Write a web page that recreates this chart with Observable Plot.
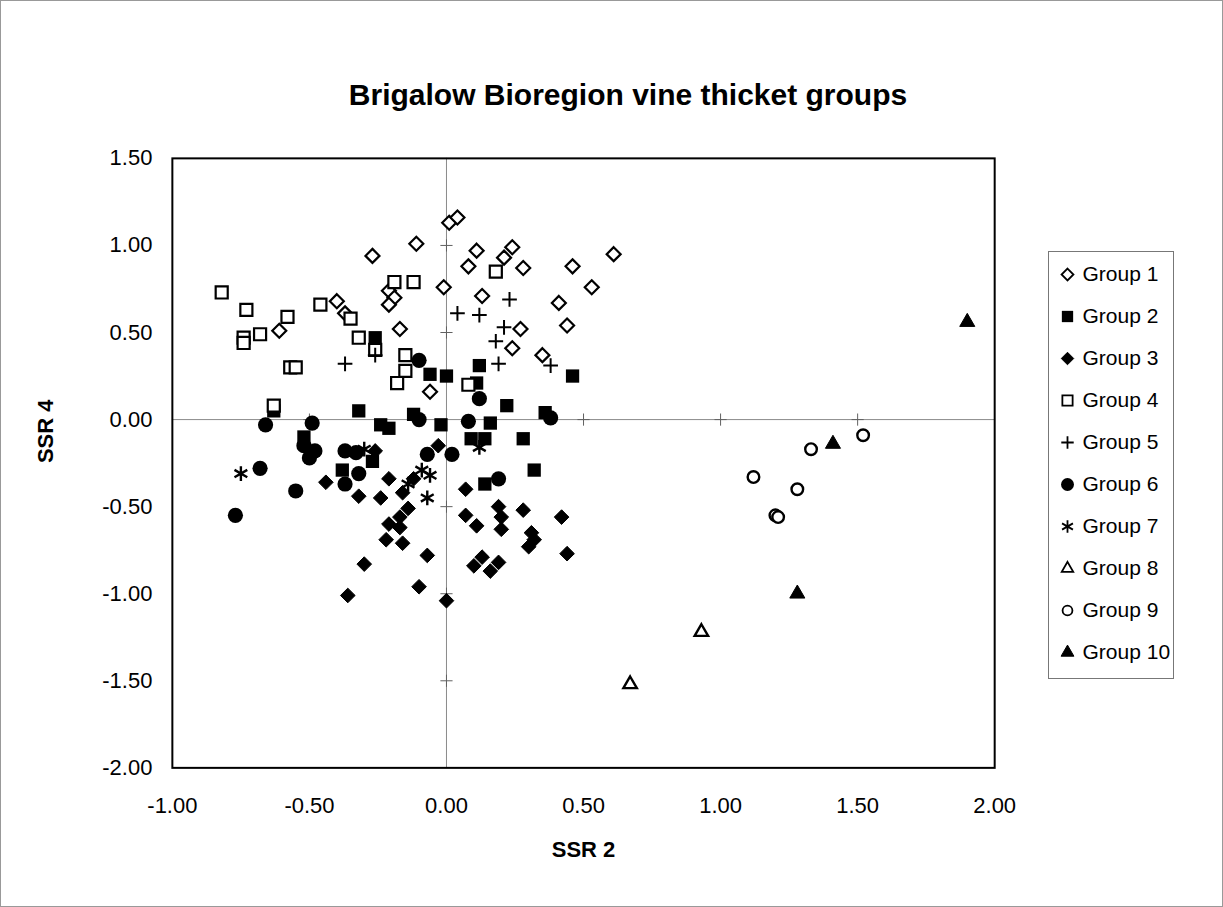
<!DOCTYPE html>
<html><head><meta charset="utf-8">
<script src="https://cdn.jsdelivr.net/npm/d3@7"></script>
<script src="https://cdn.jsdelivr.net/npm/@observablehq/plot@0.6"></script>
<style>
html,body{margin:0;padding:0;background:#fff;}
#wrap{position:relative;width:1223px;height:907px;box-sizing:border-box;border:1px solid #999;font-family:"Liberation Sans",Arial,sans-serif;overflow:hidden;}
#title{position:absolute;left:32px;top:77px;width:1190px;text-align:center;font-weight:bold;font-size:30px;color:#000;}
#chart{position:absolute;left:-1px;top:-1px;}
#legend{position:absolute;left:1047px;top:250px;width:126px;height:428px;box-sizing:border-box;border:1px solid #777;background:#fff;}
#legend svg{max-width:none;}
</style></head>
<body>
<div id="wrap">
  <div id="chart"></div>
  <div id="title">Brigalow Bioregion vine thicket groups</div>
  <div id="legend"></div>
</div>
<script>
// ---- data (SSR 2, SSR 4) per group ----
const groupNames = ["Group 1","Group 2","Group 3","Group 4","Group 5","Group 6","Group 7","Group 8","Group 9","Group 10"];
const g1 = [[0.01,1.13],[0.04,1.16],[-0.11,1.01],[-0.27,0.94],[0.11,0.97],[0.08,0.88],[0.21,0.93],[0.24,0.99],[0.28,0.87],[0.46,0.88],[0.61,0.95],[0.53,0.76],[-0.01,0.76],[0.13,0.71],[0.41,0.67],[0.44,0.54],[0.27,0.52],[0.24,0.41],[0.35,0.37],[-0.06,0.16],[-0.40,0.68],[-0.37,0.61],[-0.21,0.74],[-0.19,0.70],[-0.21,0.66],[-0.17,0.52],[-0.61,0.51]];
const g2 = [[-0.26,0.47],[0.12,0.31],[0.46,0.25],[0.11,0.21],[0.00,0.25],[-0.06,0.26],[0.22,0.08],[0.36,0.04],[-0.32,0.05],[-0.63,0.05],[-0.24,-0.03],[-0.21,-0.05],[-0.12,0.03],[-0.02,-0.03],[0.16,-0.02],[0.09,-0.11],[0.14,-0.11],[0.28,-0.11],[0.32,-0.29],[0.14,-0.37],[-0.38,-0.29],[-0.27,-0.24],[-0.52,-0.10]];
const g3 = [[-0.03,-0.15],[-0.26,-0.18],[-0.44,-0.36],[-0.21,-0.34],[-0.32,-0.44],[-0.24,-0.45],[-0.16,-0.42],[-0.12,-0.34],[-0.14,-0.51],[-0.21,-0.60],[-0.17,-0.56],[-0.17,-0.62],[-0.22,-0.69],[-0.16,-0.71],[-0.30,-0.83],[-0.36,-1.01],[-0.10,-0.96],[0.07,-0.40],[0.07,-0.55],[0.11,-0.61],[0.19,-0.50],[0.20,-0.56],[0.20,-0.63],[0.28,-0.52],[0.42,-0.56],[0.31,-0.65],[0.32,-0.69],[0.30,-0.73],[0.44,-0.77],[0.10,-0.84],[0.13,-0.79],[0.16,-0.87],[0.19,-0.82],[-0.07,-0.78],[0.00,-1.04]];
const g4 = [[0.18,0.85],[-0.82,0.73],[-0.73,0.63],[-0.58,0.59],[-0.46,0.66],[-0.35,0.58],[-0.19,0.79],[-0.12,0.79],[-0.68,0.49],[-0.74,0.47],[-0.74,0.44],[-0.57,0.30],[-0.55,0.30],[-0.32,0.47],[-0.26,0.40],[-0.15,0.37],[-0.15,0.28],[-0.18,0.21],[0.08,0.20],[-0.63,0.08]];
const g5 = [[0.23,0.69],[0.04,0.61],[0.12,0.60],[0.21,0.53],[0.18,0.45],[0.19,0.32],[0.38,0.31],[-0.37,0.32],[-0.26,0.37]];
const g6 = [[-0.10,0.34],[0.12,0.12],[-0.10,0.00],[0.08,-0.01],[-0.66,-0.03],[-0.49,-0.02],[-0.52,-0.15],[-0.48,-0.18],[-0.50,-0.22],[-0.68,-0.28],[-0.55,-0.41],[-0.77,-0.55],[-0.37,-0.18],[-0.33,-0.19],[-0.32,-0.31],[-0.37,-0.37],[-0.07,-0.20],[0.02,-0.20],[0.19,-0.34],[0.38,0.01]];
const g7 = [[-0.75,-0.31],[-0.30,-0.17],[-0.09,-0.29],[-0.06,-0.32],[-0.14,-0.37],[-0.07,-0.45],[0.12,-0.16]];
const g8 = [[0.93,-1.22],[0.67,-1.52]];
const g9 = [[1.52,-0.09],[1.33,-0.17],[1.12,-0.33],[1.28,-0.40],[1.20,-0.55],[1.21,-0.56]];
const g10 = [[1.90,0.56],[1.41,-0.14],[1.28,-1.00]];
const groupData = [g1,g2,g3,g4,g5,g6,g7,g8,g9,g10];

const xTicks = [-1,-0.5,0,0.5,1,1.5,2];
const yTicks = [-2,-1.5,-1,-0.5,0,0.5,1,1.5];
const title = "Brigalow Bioregion vine thicket groups";
const xLabel = "SSR 2";
const yLabel = "SSR 4";

// ---- marker styles ----
const styles = [
  {symbol:"diamond2", fill:"white", stroke:"black", strokeWidth:2.2, r:6.3},
  {symbol:"square",   fill:"black", stroke:"none",  strokeWidth:0, r:7.5},
  {symbol:"diamond2", fill:"black", stroke:"black", strokeWidth:1, r:6.6},
  {symbol:"square",   fill:"white", stroke:"black", strokeWidth:2.2, r:6.8},
  {symbol:"plus",     fill:"none",  stroke:"black", strokeWidth:2, r:4.8},
  {symbol:"circle",   fill:"black", stroke:"none",  strokeWidth:0, r:7.6},
  {symbol:"asterisk", fill:"none",  stroke:"black", strokeWidth:2.4, r:7.0},
  {symbol:"triangle", fill:"white", stroke:"black", strokeWidth:2.4, r:5.0},
  {symbol:"circle",   fill:"white", stroke:"black", strokeWidth:2.4, r:5.8},
  {symbol:"triangle", fill:"black", stroke:"black", strokeWidth:1, r:5.6}
];

const FONT = '"Liberation Sans", Arial, sans-serif';
const fmt = d => d.toFixed(2);

const pointMarks = groupData.map((pts, i) => Plot.dot(pts, {
  x: d => d[0], y: d => d[1],
  symbol: styles[i].symbol, fill: styles[i].fill, stroke: styles[i].stroke,
  strokeWidth: styles[i].strokeWidth, r: styles[i].r
}));

const chart = Plot.plot({
  width: 1223, height: 907,
  marginLeft: 172, marginRight: 228, marginTop: 158, marginBottom: 139,
  style: {fontFamily: FONT, fontSize: "22px", color: "black", background: "white"},
  x: {domain: [-1, 2]},
  y: {domain: [-2, 1.5]},
  marks: [
    Plot.ruleX([0], {stroke: "#8a8a8a", strokeWidth: 1}),
    Plot.ruleY([0], {stroke: "#8a8a8a", strokeWidth: 1}),
    Plot.dot(yTicks.filter(v => v > -2 && v < 1.5 && v !== 0), {x: () => 0, y: d => d, symbol: "plus", stroke: "#606060", strokeWidth: 1, r: 4}),
    Plot.dot(xTicks.filter(v => v > -1 && v < 2 && v !== 0), {x: d => d, y: () => 0, symbol: "plus", stroke: "#606060", strokeWidth: 1, r: 4}),
    Plot.axisX({ticks: xTicks, tickFormat: fmt, tickSize: 0, tickPadding: 30, label: null, fontSize: 22}),
    Plot.axisY({ticks: yTicks, tickFormat: fmt, tickSize: 0, tickPadding: 20, label: null, fontSize: 22}),
    ...pointMarks,
    Plot.frame({stroke: "black", strokeWidth: 2}),
    Plot.text([xLabel], {frameAnchor: "bottom", dy: 89, fontWeight: "bold", fontSize: 22}),
    Plot.text([yLabel], {frameAnchor: "left", dx: -127, rotate: -90, fontWeight: "bold", fontSize: 22})
  ]
});
document.getElementById("chart").appendChild(chart);
document.getElementById("title").textContent = title;

// ---- legend ----
const legendMarks = groupNames.map((name, i) => Plot.dot([name], {
  y: d => d, frameAnchor: "left", dx: 18,
  symbol: styles[i].symbol, fill: styles[i].fill, stroke: styles[i].stroke,
  strokeWidth: Math.min(styles[i].strokeWidth, 1.8), r: styles[i].r * 0.85
}));
const legend = Plot.plot({
  width: 124, height: 426,
  marginLeft: 0, marginRight: 0, marginTop: 18, marginBottom: 22,
  style: {fontFamily: FONT, fontSize: "21px", color: "black", background: "transparent"},
  x: {axis: null},
  y: {type: "point", domain: groupNames, padding: 0, axis: null},
  marks: [
    ...legendMarks,
    Plot.text(groupNames, {y: d => d, text: d => d, frameAnchor: "left", dx: 33, textAnchor: "start", fontSize: 21})
  ]
});
document.getElementById("legend").appendChild(legend);
</script>
</body></html>
